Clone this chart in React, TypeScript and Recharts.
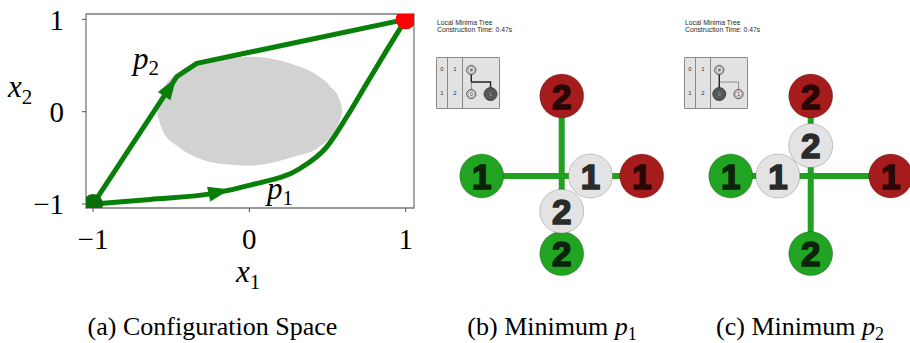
import React from "react";
import { ComposedChart, Line, Area, Scatter, XAxis, YAxis, ReferenceArea } from "recharts";

const SERIF = "Liberation Serif, DejaVu Serif, serif";
const SANS = "Liberation Sans, Arial, sans-serif";
const PATH_GREEN = "#087f08";
const CROSS_GREEN = "#22a022";

// (a) configuration space
const axisTicks = [-1, 0, 1];
const p1X = [-1, -0.635, -0.23, 0.004, 0.324, 0.495, 0.623, 0.751, 0.879, 1];
const p1Y = [-1, -0.95, -0.885, -0.795, -0.615, -0.38, -0.055, 0.307, 0.667, 1];
const p2X = [-1, -0.465, -0.337, 1];
const p2Y = [-1, 0.378, 0.523, 1];
const obstacleX = [-0.588, -0.55, -0.45, -0.3, -0.15, 0, 0.15, 0.3, 0.43, 0.52, 0.575, 0.592];
const obstacleLow = [-0.04, -0.22, -0.385, -0.52, -0.57, -0.585, -0.55, -0.48, -0.4, -0.27, -0.11, -0.03];
const obstacleHigh = [0.06, 0.24, 0.43, 0.54, 0.58, 0.595, 0.57, 0.5, 0.4, 0.27, 0.14, 0.05];
const arrowX = [-0.51, -0.198];
const arrowY = [0.26, -0.871];
const arrowHeading = [-56.7, -12];
const pathLabelX = [-0.744, 0.113];
const pathLabelY = [0.462, -0.941];
const pathLabelSub = ["2", "1"];
const startX = [-1];
const startY = [-1];
const goalX = [1];
const goalY = [1];

// (b), (c) robot positions: start, current, goal for robot 1 then robot 2
const robotIds = ["1", "1", "1", "2", "2", "2"];
const robotKinds = ["start", "current", "goal", "start", "current", "goal"];
const minP1X = [-1, 0.36, 1, 0, 0, 0];
const minP1Y = [0, 0, 0, -0.97, -0.44, 1];
const minP2X = [-1, -0.41, 1, 0, 0, 0];
const minP2Y = [0, 0, 0, -0.97, 0.38, 1];
const crossH = [{ x: -1, y: 0 }, { x: 1, y: 0 }];
const crossV = [{ x: 0, y: 1 }, { x: 0, y: -0.97 }];

// inset tree
const treeX = [0, 0, 1];
const treeY = [1, 0, 0];
const treeText = ["#", "0", "1"];
const tableCol1 = ["0", "1"];
const tableCol2 = ["1", "2"];

const p1Data = p1X.map((x, i) => ({ x, y: p1Y[i] }));
const p2Data = p2X.map((x, i) => ({ x, y: p2Y[i] }));
const obstacleData = obstacleX.map((x, i) => ({ x, range: [obstacleLow[i], obstacleHigh[i]] }));
const arrowData = arrowX.map((x, i) => ({ x, y: arrowY[i], heading: arrowHeading[i] }));
const labelData = pathLabelX.map((x, i) => ({ x, y: pathLabelY[i], sub: pathLabelSub[i] }));
const startData = startX.map((x, i) => ({ x, y: startY[i] }));
const goalData = goalX.map((x, i) => ({ x, y: goalY[i] }));

const fmt = (v: number) => (v < 0 ? "\u2212" + Math.abs(v) : String(v));

const ArrowHead = (props: any) => {
  const { cx, cy, payload } = props;
  return (
    <path
      d="M 12 0 L -10 -7.5 L -10 7.5 Z"
      transform={`translate(${cx},${cy}) rotate(${payload.heading})`}
      fill={PATH_GREEN}
    />
  );
};

const PathLabel = (props: any) => {
  const { cx, cy, payload } = props;
  return (
    <text x={cx} y={cy} style={{ fontFamily: SERIF }} fontSize={31} fontStyle="italic" fill="#000">
      p
      <tspan fontStyle="normal" fontSize={21} dy={6}>
        {payload.sub}
      </tspan>
    </text>
  );
};

const Dot = (color: string) => (props: any) => <circle cx={props.cx} cy={props.cy} r={10} fill={color} />;

const AxisName = (sub: string, dx: number, dy: number) => (props: any) => {
  const vb = props.viewBox;
  return (
    <text x={vb.x + dx} y={vb.y + dy} style={{ fontFamily: SERIF }} fontSize={31} fontStyle="italic" fill="#000">
      x
      <tspan fontStyle="normal" fontSize={21} dy={7}>
        {sub}
      </tspan>
    </text>
  );
};

function ConfigSpace() {
  return (
    <ComposedChart width={430} height={300} margin={{ top: 14, right: 16, bottom: 0, left: 0 }}>
      <XAxis
        dataKey="x"
        type="number"
        domain={[-1.045, 1.053]}
        allowDataOverflow
        ticks={axisTicks}
        tickFormatter={fmt}
        height={92}
        axisLine={false}
        tickSize={4}
        tickMargin={16}
        tickLine={{ stroke: "#555" }}
        tick={{ fill: "#000", fontSize: 29, style: { fontFamily: SERIF } }}
        label={{ content: AxisName("1", 150, 74) }}
      />
      <YAxis
        type="number"
        domain={[-1.043, 1.058]}
        allowDataOverflow
        ticks={axisTicks}
        tickFormatter={fmt}
        width={86}
        axisLine={false}
        tickSize={4}
        tickMargin={18}
        tickLine={{ stroke: "#555" }}
        tick={{ fill: "#000", fontSize: 29, style: { fontFamily: SERIF } }}
        label={{ content: AxisName("2", 8, 83) }}
      />
      <Area
        data={obstacleData}
        dataKey="range"
        type="monotone"
        stroke="none"
        fill="#d2d2d2"
        fillOpacity={1}
        isAnimationActive={false}
      />
      <Line data={p1Data} dataKey="y" type="monotone" stroke={PATH_GREEN} strokeWidth={5} dot={false} isAnimationActive={false} />
      <Line data={p2Data} dataKey="y" type="linear" stroke={PATH_GREEN} strokeWidth={5} strokeLinejoin="round" dot={false} isAnimationActive={false} />
      <Scatter data={arrowData} dataKey="y" shape={ArrowHead} isAnimationActive={false} />
      <Scatter data={startData} dataKey="y" shape={Dot("#0a6e0a")} isAnimationActive={false} />
      <Scatter data={goalData} dataKey="y" shape={Dot("#ff0000")} isAnimationActive={false} />
      <Scatter data={labelData} dataKey="y" shape={PathLabel} isAnimationActive={false} />
      <ReferenceArea x1={-1.045} x2={1.053} y1={-1.043} y2={1.058} fill="none" stroke="#7a7a7a" strokeWidth={1.3} ifOverflow="visible" />
    </ComposedChart>
  );
}

const ROBOT_STYLE: Record<string, { fill: string; text: string }> = {
  start: { fill: "#21a421", text: "#0a230a" },
  goal: { fill: "#a61c1c", text: "#2a0707" },
  current: { fill: "#e3e3e3", text: "#2b2b2b" },
};

const RobotDot = (props: any) => {
  const { cx, cy, payload } = props;
  const s = ROBOT_STYLE[payload.kind];
  return (
    <g>
      <circle cx={cx} cy={cy} r={22} fill={s.fill} stroke="rgba(0,0,0,0.2)" strokeWidth={1} />
      <text
        x={cx}
        y={cy}
        dy="0.36em"
        textAnchor="middle"
        style={{ fontFamily: SANS }}
        fontWeight={700}
        fontSize={35}
        fill={s.text}
        stroke={s.text}
        strokeWidth={1.6}
      >
        {payload.id}
      </text>
    </g>
  );
};

const TreeNode = (chosen: number) => (props: any) => {
  const { cx, cy, payload } = props;
  const dark = payload.idx === chosen;
  return (
    <g>
      <circle cx={cx} cy={cy} r={dark ? 6.5 : 4.6} fill={dark ? "#585858" : "#e6e6e6"} stroke="#333" strokeWidth={0.8} />
      {!dark && <circle cx={cx} cy={cy} r={3.3} fill="none" stroke="#555" strokeWidth={0.4} />}
      <text x={cx} y={cy} dy="0.35em" textAnchor="middle" style={{ fontFamily: SANS }} fontSize={5} fill={dark ? "#aaa" : "#333"}>
        {payload.t}
      </text>
    </g>
  );
};

function TreeInset({ left, chosen }: { left: number; chosen: number }) {
  const nodes = treeX.map((x, i) => ({ x, y: treeY[i], t: treeText[i], idx: i }));
  const trunk = [{ x: 0, y: 1 }, { x: 0, y: 0.5 }];
  const toFirst = [{ x: 0, y: 0.5 }, { x: 0, y: 0 }];
  const toSecond = [{ x: 0, y: 0.5 }, { x: 1, y: 0.5 }, { x: 1, y: 0 }];
  const cell: React.CSSProperties = { position: "absolute", fontSize: 6, fontFamily: SANS, color: "#333", textAlign: "center" };
  return (
    <div style={{ position: "absolute", left, top: 19, width: 80, height: 92 }}>
      <div style={{ position: "absolute", left: 1, top: 0, fontSize: 6.8, lineHeight: "7.3px", fontFamily: SANS, color: "#2a2a2a", whiteSpace: "nowrap" }}>
        Local Minima Tree
        <br />
        Construction Time: 0.47s
      </div>
      <div style={{ position: "absolute", left: 0, top: 37.5, width: 62, height: 50, background: "#e2e2e2", border: "1px solid #8a8a8a", borderRadius: 1 }}>
        <div style={{ position: "absolute", left: 10, top: 0, width: 0, height: 50, borderLeft: "1px solid #8a8a8a" }} />
        <div style={{ position: "absolute", left: 25, top: 0, width: 0, height: 50, borderLeft: "1px solid #8a8a8a" }} />
        {tableCol1.map((t, i) => (
          <div key={"a" + i} style={{ ...cell, left: 0, width: 10, top: i === 0 ? 8 : 32 }}>{t}</div>
        ))}
        {tableCol2.map((t, i) => (
          <div key={"b" + i} style={{ ...cell, left: 11, width: 14, top: i === 0 ? 8 : 32 }}>{t}</div>
        ))}
        <div style={{ position: "absolute", left: 26, top: 0 }}>
          <ComposedChart width={36} height={50} margin={{ top: 0, right: 0, bottom: 0, left: 0 }}>
            <XAxis dataKey="x" type="number" hide domain={[-0.43, 1.44]} />
            <YAxis type="number" hide domain={[-0.58, 1.5]} />
            <Line data={trunk} dataKey="y" stroke="#222" strokeWidth={1.4} dot={false} isAnimationActive={false} />
            <Line data={toFirst} dataKey="y" stroke={chosen === 1 ? "#222" : "#555"} strokeWidth={chosen === 1 ? 1.4 : 0.6} dot={false} isAnimationActive={false} />
            <Line data={toSecond} dataKey="y" stroke={chosen === 2 ? "#222" : "#555"} strokeWidth={chosen === 2 ? 1.4 : 0.6} dot={false} isAnimationActive={false} />
            <Scatter data={nodes} dataKey="y" shape={TreeNode(chosen)} isAnimationActive={false} />
          </ComposedChart>
        </div>
      </div>
    </div>
  );
}

function MinimumPanel({ left, xs, ys, chosen, insetLeft }: { left: number; xs: number[]; ys: number[]; chosen: number; insetLeft: number }) {
  const robots = xs.map((x, i) => ({ x, y: ys[i], id: robotIds[i], kind: robotKinds[i] }));
  const ordered = [...robots.filter((r) => r.kind !== "current"), ...robots.filter((r) => r.kind === "current")];
  return (
    <>
      <div style={{ position: "absolute", left, top: 19.7 }}>
        <ComposedChart width={250} height={260} margin={{ top: 0, right: 0, bottom: 0, left: 0 }}>
          <XAxis dataKey="x" type="number" hide domain={[-1.784, 1.341]} />
          <YAxis type="number" hide domain={[-1.3, 1.95]} />
          <Line data={crossH} dataKey="y" stroke={CROSS_GREEN} strokeWidth={6} dot={false} isAnimationActive={false} />
          <Line data={crossV} dataKey="y" stroke={CROSS_GREEN} strokeWidth={6} dot={false} isAnimationActive={false} />
          <Scatter data={ordered} dataKey="y" shape={RobotDot} isAnimationActive={false} />
        </ComposedChart>
      </div>
      <TreeInset left={insetLeft} chosen={chosen} />
    </>
  );
}

export default function App() {
  return (
    <div style={{ position: "absolute", left: 0, top: 0, width: 910, height: 343, background: "#fff", overflow: "hidden" }}>
      <div style={{ position: "absolute", left: 0, top: 0 }}>
        <ConfigSpace />
      </div>
      <MinimumPanel left={418.8} xs={minP1X} ys={minP1Y} chosen={2} insetLeft={436} />
      <MinimumPanel left={668.3} xs={minP2X} ys={minP2Y} chosen={1} insetLeft={684} />
      <svg width={910} height={343} style={{ position: "absolute", left: 0, top: 0, pointerEvents: "none", fontFamily: SERIF }}>
        <text x={212.5} y={335} textAnchor="middle" fontSize={26} fill="#000">
          (a) Configuration Space
        </text>
        <text x={552} y={335} textAnchor="middle" fontSize={26} fill="#000">
          (b) Minimum <tspan fontStyle="italic">p</tspan>
          <tspan fontSize={18} dy={5}>1</tspan>
        </text>
        <text x={800} y={335} textAnchor="middle" fontSize={26} fill="#000">
          (c) Minimum <tspan fontStyle="italic">p</tspan>
          <tspan fontSize={18} dy={5}>2</tspan>
        </text>
      </svg>
    </div>
  );
}
